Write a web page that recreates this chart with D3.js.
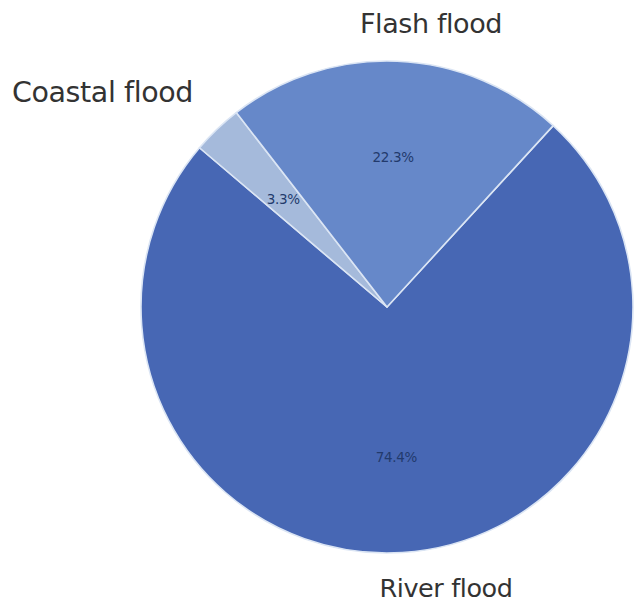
<!DOCTYPE html>
<html>
<head>
<meta charset="utf-8">
<script src="https://cdn.jsdelivr.net/npm/d3@7"></script>
<style>
  html, body { margin: 0; padding: 0; background: #ffffff; }
  svg { display: block; }
</style>
</head>
<body>
<svg id="chart" width="634" height="604"></svg>
<script>
// ---- data ----
const categories = ["River flood", "Coastal flood", "Flash flood"];
const shares = [74.4, 3.3, 22.3];
const percentLabels = ["74.4%", "3.3%", "22.3%"];
const sliceColors = ["#4767b4", "#a5badb", "#6688c9"];

// ---- layout ----
const W = 634, H = 604;
const cx = 387, cy = 307, R = 246;
const startDeg = 42.5;

const svg = d3.select("#chart");
const g = svg.append("g").attr("transform", `translate(${cx},${cy})`);

const data = categories.map((c, i) => ({ cat: c, value: shares[i], label: percentLabels[i], color: sliceColors[i] }));

const pie = d3.pie()
  .value(d => d.value)
  .sort(null)
  .startAngle(startDeg * Math.PI / 180)
  .endAngle((startDeg + 360) * Math.PI / 180);

const arcs = pie(data);
const arc = d3.arc().innerRadius(0).outerRadius(R);
const labelArc = d3.arc().innerRadius(150).outerRadius(150);

g.selectAll("path.slice")
  .data(arcs)
  .join("path")
  .attr("class", "slice")
  .attr("d", arc)
  .attr("fill", d => d.data.color)
  .attr("stroke", "#dbe5f4")
  .attr("stroke-width", 1.6)
  .attr("stroke-linejoin", "round");

g.selectAll("text.pct")
  .data(arcs)
  .join("text")
  .attr("class", "pct")
  .attr("transform", d => `translate(${labelArc.centroid(d)})`)
  .attr("text-anchor", "middle")
  .attr("dominant-baseline", "central")
  .attr("font-family", "DejaVu Sans, sans-serif")
  .attr("font-size", 13.5)
  .attr("letter-spacing", -0.3)
  .attr("fill", "#223a6c")
  .text(d => d.data.label);

// category labels (positioned outside the pie)
const catPos = {
  "Flash flood":   { x: 431, y: 23, anchor: "middle", size: 27 },
  "Coastal flood": { x: 12,  y: 92, anchor: "start",  size: 28.5 },
  "River flood":   { x: 446, y: 588, anchor: "middle", size: 25.5 }
};

svg.selectAll("text.cat")
  .data(data)
  .join("text")
  .attr("class", "cat")
  .attr("x", d => catPos[d.cat].x)
  .attr("y", d => catPos[d.cat].y)
  .attr("text-anchor", d => catPos[d.cat].anchor)
  .attr("dominant-baseline", "central")
  .attr("font-family", "DejaVu Sans, sans-serif")
  .attr("font-size", d => catPos[d.cat].size)
  .attr("letter-spacing", -0.4)
  .attr("fill", "#333333")
  .text(d => d.cat);
</script>
</body>
</html>
